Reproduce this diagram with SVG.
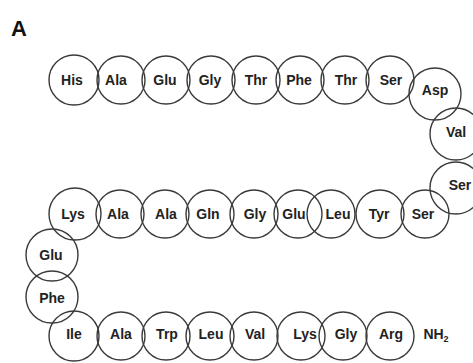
<svg xmlns="http://www.w3.org/2000/svg" width="473" height="363" viewBox="0 0 473 363">
<style>
.c{fill:none;stroke:#3a3a3a;stroke-width:1.4}
.t{font-family:"Liberation Sans",Arial,sans-serif;font-size:14px;font-weight:bold;fill:#222;text-anchor:middle}
.lbl{font-family:"Liberation Sans",Arial,sans-serif;font-size:22px;font-weight:bold;fill:#111}
</style>
<rect width="473" height="363" fill="#fff"/>
<text class="lbl" x="11" y="36">A</text>
<g id="connectors"/>
<g id="n1"><circle class="c" cx="74" cy="80" r="25"/><text class="t" x="72" y="85">His</text></g>
<g id="n2"><circle class="c" cx="121" cy="80" r="24"/><text class="t" x="116" y="85">Ala</text></g>
<g id="n3"><circle class="c" cx="166" cy="80" r="24"/><text class="t" x="165" y="85">Glu</text></g>
<g id="n4"><circle class="c" cx="211" cy="80" r="24"/><text class="t" x="210" y="85">Gly</text></g>
<g id="n5"><circle class="c" cx="256" cy="80" r="24"/><text class="t" x="256" y="85">Thr</text></g>
<g id="n6"><circle class="c" cx="300" cy="80" r="24"/><text class="t" x="299" y="85">Phe</text></g>
<g id="n7"><circle class="c" cx="345" cy="80" r="24"/><text class="t" x="346" y="85">Thr</text></g>
<g id="n8"><circle class="c" cx="390" cy="80" r="24"/><text class="t" x="391" y="85">Ser</text></g>
<g id="n9"><circle class="c" cx="435" cy="94" r="26"/><text class="t" x="435" y="95">Asp</text></g>
<g id="n10"><circle class="c" cx="456" cy="134" r="26"/><text class="t" x="456" y="137">Val</text></g>
<g id="n11"><circle class="c" cx="456" cy="188" r="26"/><text class="t" x="460" y="190">Ser</text></g>
<g id="n12"><circle class="c" cx="425" cy="214" r="24"/><text class="t" x="423" y="219">Ser</text></g>
<g id="n13"><circle class="c" cx="380" cy="214" r="24"/><text class="t" x="379" y="219">Tyr</text></g>
<g id="n14"><circle class="c" cx="331" cy="214" r="24"/><text class="t" x="338" y="219">Leu</text></g>
<g id="n15"><circle class="c" cx="298" cy="214" r="24"/><text class="t" x="294" y="219">Glu</text></g>
<g id="n16"><circle class="c" cx="254" cy="214" r="24"/><text class="t" x="255" y="219">Gly</text></g>
<g id="n17"><circle class="c" cx="210" cy="214" r="24"/><text class="t" x="208" y="219">Gln</text></g>
<g id="n18"><circle class="c" cx="165" cy="214" r="24"/><text class="t" x="166" y="219">Ala</text></g>
<g id="n19"><circle class="c" cx="120" cy="214" r="24"/><text class="t" x="118" y="219">Ala</text></g>
<g id="n20"><circle class="c" cx="75" cy="214" r="26"/><text class="t" x="73" y="219">Lys</text></g>
<g id="n21"><circle class="c" cx="52" cy="255" r="26"/><text class="t" x="51" y="260">Glu</text></g>
<g id="n22"><circle class="c" cx="52" cy="297" r="26"/><text class="t" x="52" y="303">Phe</text></g>
<g id="n23"><circle class="c" cx="74" cy="336" r="25"/><text class="t" x="74" y="339">Ile</text></g>
<g id="n24"><circle class="c" cx="121" cy="336" r="24"/><text class="t" x="121" y="339">Ala</text></g>
<g id="n25"><circle class="c" cx="166" cy="336" r="24"/><text class="t" x="167" y="339">Trp</text></g>
<g id="n26"><circle class="c" cx="210" cy="336" r="24"/><text class="t" x="211" y="339">Leu</text></g>
<g id="n27"><circle class="c" cx="254" cy="336" r="24"/><text class="t" x="255" y="339">Val</text></g>
<g id="n28"><circle class="c" cx="301" cy="336" r="24"/><text class="t" x="305" y="339">Lys</text></g>
<g id="n29"><circle class="c" cx="343" cy="336" r="24"/><text class="t" x="346" y="339">Gly</text></g>
<g id="n30"><circle class="c" cx="390" cy="336" r="24"/><text class="t" x="391" y="339">Arg</text></g>
<g id="n31"><text class="t" x="436" y="339">NH<tspan font-size="9" dy="3">2</tspan></text></g>
</svg>
